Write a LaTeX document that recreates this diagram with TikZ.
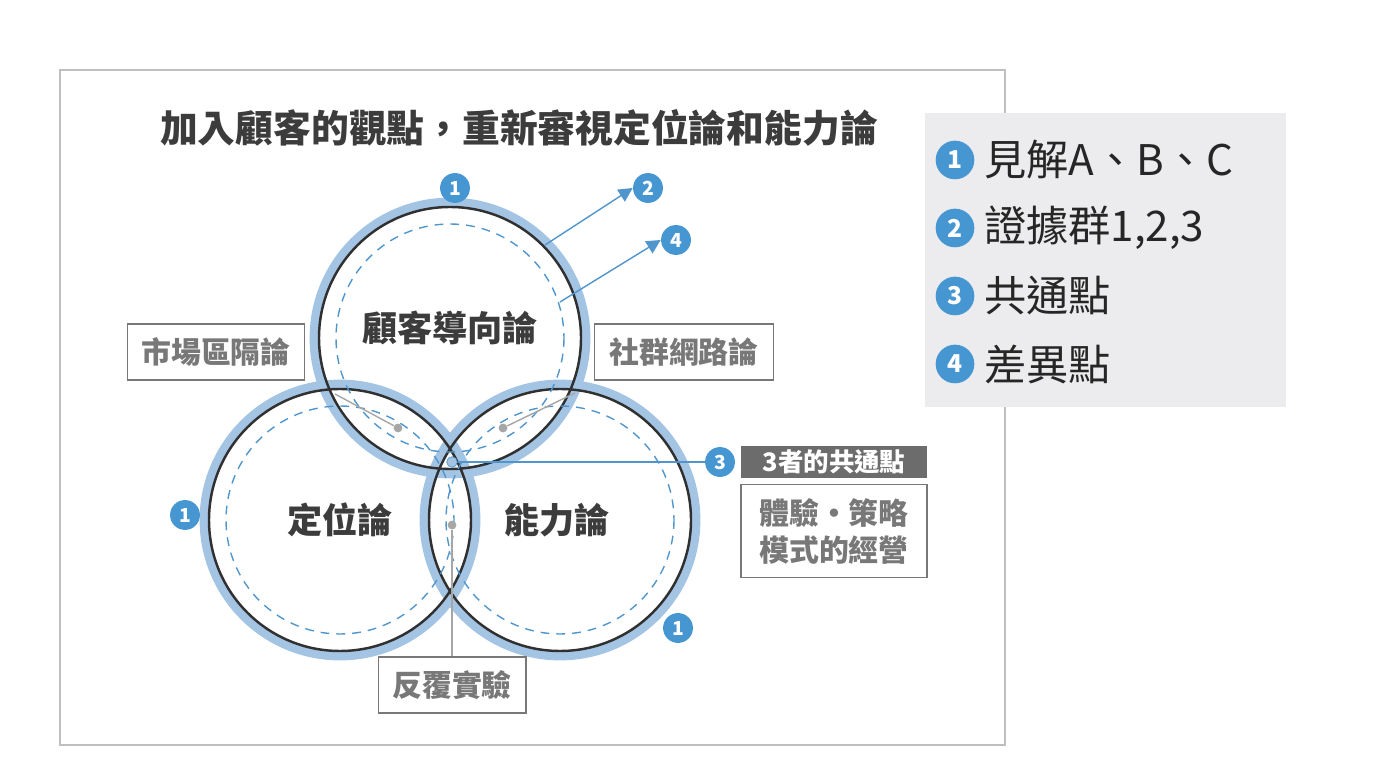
\documentclass[tikz,border=0pt]{standalone}
\usepackage{fontspec}
\setmainfont{Noto Sans CJK TC}
\usetikzlibrary{arrows.meta}
\definecolor{ringblue}{RGB}{164,196,228}
\definecolor{badgeblue}{RGB}{70,150,210}
\definecolor{dashblue}{RGB}{80,150,205}
\definecolor{txtgray}{RGB}{60,60,60}
\definecolor{boxgray}{RGB}{120,120,120}
\definecolor{legendbg}{RGB}{236,236,238}
\tikzset{
	badge/.style    = {circle, fill=badgeblue, text=white, inner sep=0pt,
		minimum size=17pt, font=\bfseries\fontsize{11}{12}\selectfont},
	bigbadge/.style = {circle, fill=badgeblue, text=white, inner sep=0pt,
		minimum size=22pt, font=\bfseries\fontsize{14}{16}\selectfont},
	graybox/.style  = {draw=boxgray, thick, fill=white, text=boxgray,
		font=\bfseries\fontsize{17}{21}\selectfont, inner sep=0pt, minimum height=32pt},
	ring/.style     = {draw=ringblue, line width=5pt},
	edge/.style     = {draw=txtgray!80!black, line width=1.4pt},
	inner/.style    = {draw=dashblue, thick, dash pattern=on 5pt off 4pt},
	pin/.style      = {circle, fill=gray!70, inner sep=0pt, minimum size=5pt},
	lead/.style     = {draw=gray!70, thick},
	cname/.style    = {font=\bfseries\fontsize{20}{24}\selectfont, text=txtgray},
	legendtxt/.style= {anchor=west, font=\fontsize{24}{28}\selectfont, text=black!85}
}
\begin{document}
\begin{tikzpicture}[x={(0.02cm,0)}, y={(0,-0.02cm)}, >={Triangle[length=8pt,width=8pt]}]
	\useasboundingbox (0,0) rectangle (1400,783);
	\draw[gray!50, thick] (60,70) rectangle (1005,745);
	\node[font=\bfseries\fontsize{21.5}{24}\selectfont, text=txtgray] (title) at (519,128) {加入顧客的觀點，重新審視定位論和能力論};

	% circles
	\coordinate (ct) at (450,338);
	\coordinate (cl) at (340,520);
	\coordinate (cr) at (560,520);
	\foreach \c in {ct,cl,cr} \draw[ring] (\c) circle (136);
	\foreach \c in {ct,cl,cr} \draw[edge] (\c) circle (131);
	\foreach \c in {ct,cl,cr} \draw[inner] (\c) circle (114);

	\node[cname] (tname) at (450,328) {顧客導向論};
	\node[cname] (lname) at (340,520) {定位論};
	\node[cname] (rname) at (557,520) {能力論};

	% side boxes
	\node[graybox, minimum width=101pt] (seg) at (216,352) {市場區隔論};
	\node[graybox, minimum width=102pt] (net) at (684,352) {社群網路論};
	\node[graybox, minimum width=84pt] (exp) at (452,685) {反覆實驗};
	\node[pin] (p1) at (398,428) {};
	\node[pin] (p2) at (503,428) {};
	\node[pin] (p3) at (452,525) {};
	\draw[lead] (335,394) -- (p1);
	\draw[lead] (575,393) -- (p2);
	\draw[lead] (exp.north) -- (p3);

	% center point
	\node[circle, draw=dashblue, fill=ringblue, inner sep=0pt, minimum size=6pt] (mid) at (452,462) {};
	\node[badge] (b3) at (720,462) {3};
	\draw[dashblue, thick] (mid) -- (b3);
	\node[fill=gray!85!black, text=white, font=\bfseries\fontsize{14.5}{16}\selectfont, minimum width=106pt, minimum height=18pt, inner sep=0pt] (common) at (834,462) {3者的共通點};
	\node[graybox, minimum width=106pt, minimum height=53pt, align=center] (exper) at (834,531) {體驗·策略\\模式的經營};

	% badges and arrows
	\node[badge] (t1) at (455,188) {1};
	\node[badge] (l1) at (185,515) {1};
	\node[badge] (r1) at (678,628) {1};
	\node[badge] (a2) at (648,188) {2};
	\node[badge] (a4) at (676,240) {4};
	\coordinate (s2) at (545,245);
	\coordinate (s4) at (560,302);
	\draw[->, dashblue, thick] (s2) -- (a2.west);
	\draw[->, dashblue, thick] (s4) -- (a4.west);

	% legend
	\fill[legendbg] (925,113) rectangle (1286,407);
	\foreach \i/\t [count=\k] in {1/見解A、B、C, 2/{證據群1,2,3}, 3/共通點, 4/差異點}{
		\node[bigbadge] (lb\k) at (955,92+68*\k) {\i};
		\node[legendtxt] (lt\k) at (978,92+68*\k) {\t};
	}
\end{tikzpicture}
\end{document}
